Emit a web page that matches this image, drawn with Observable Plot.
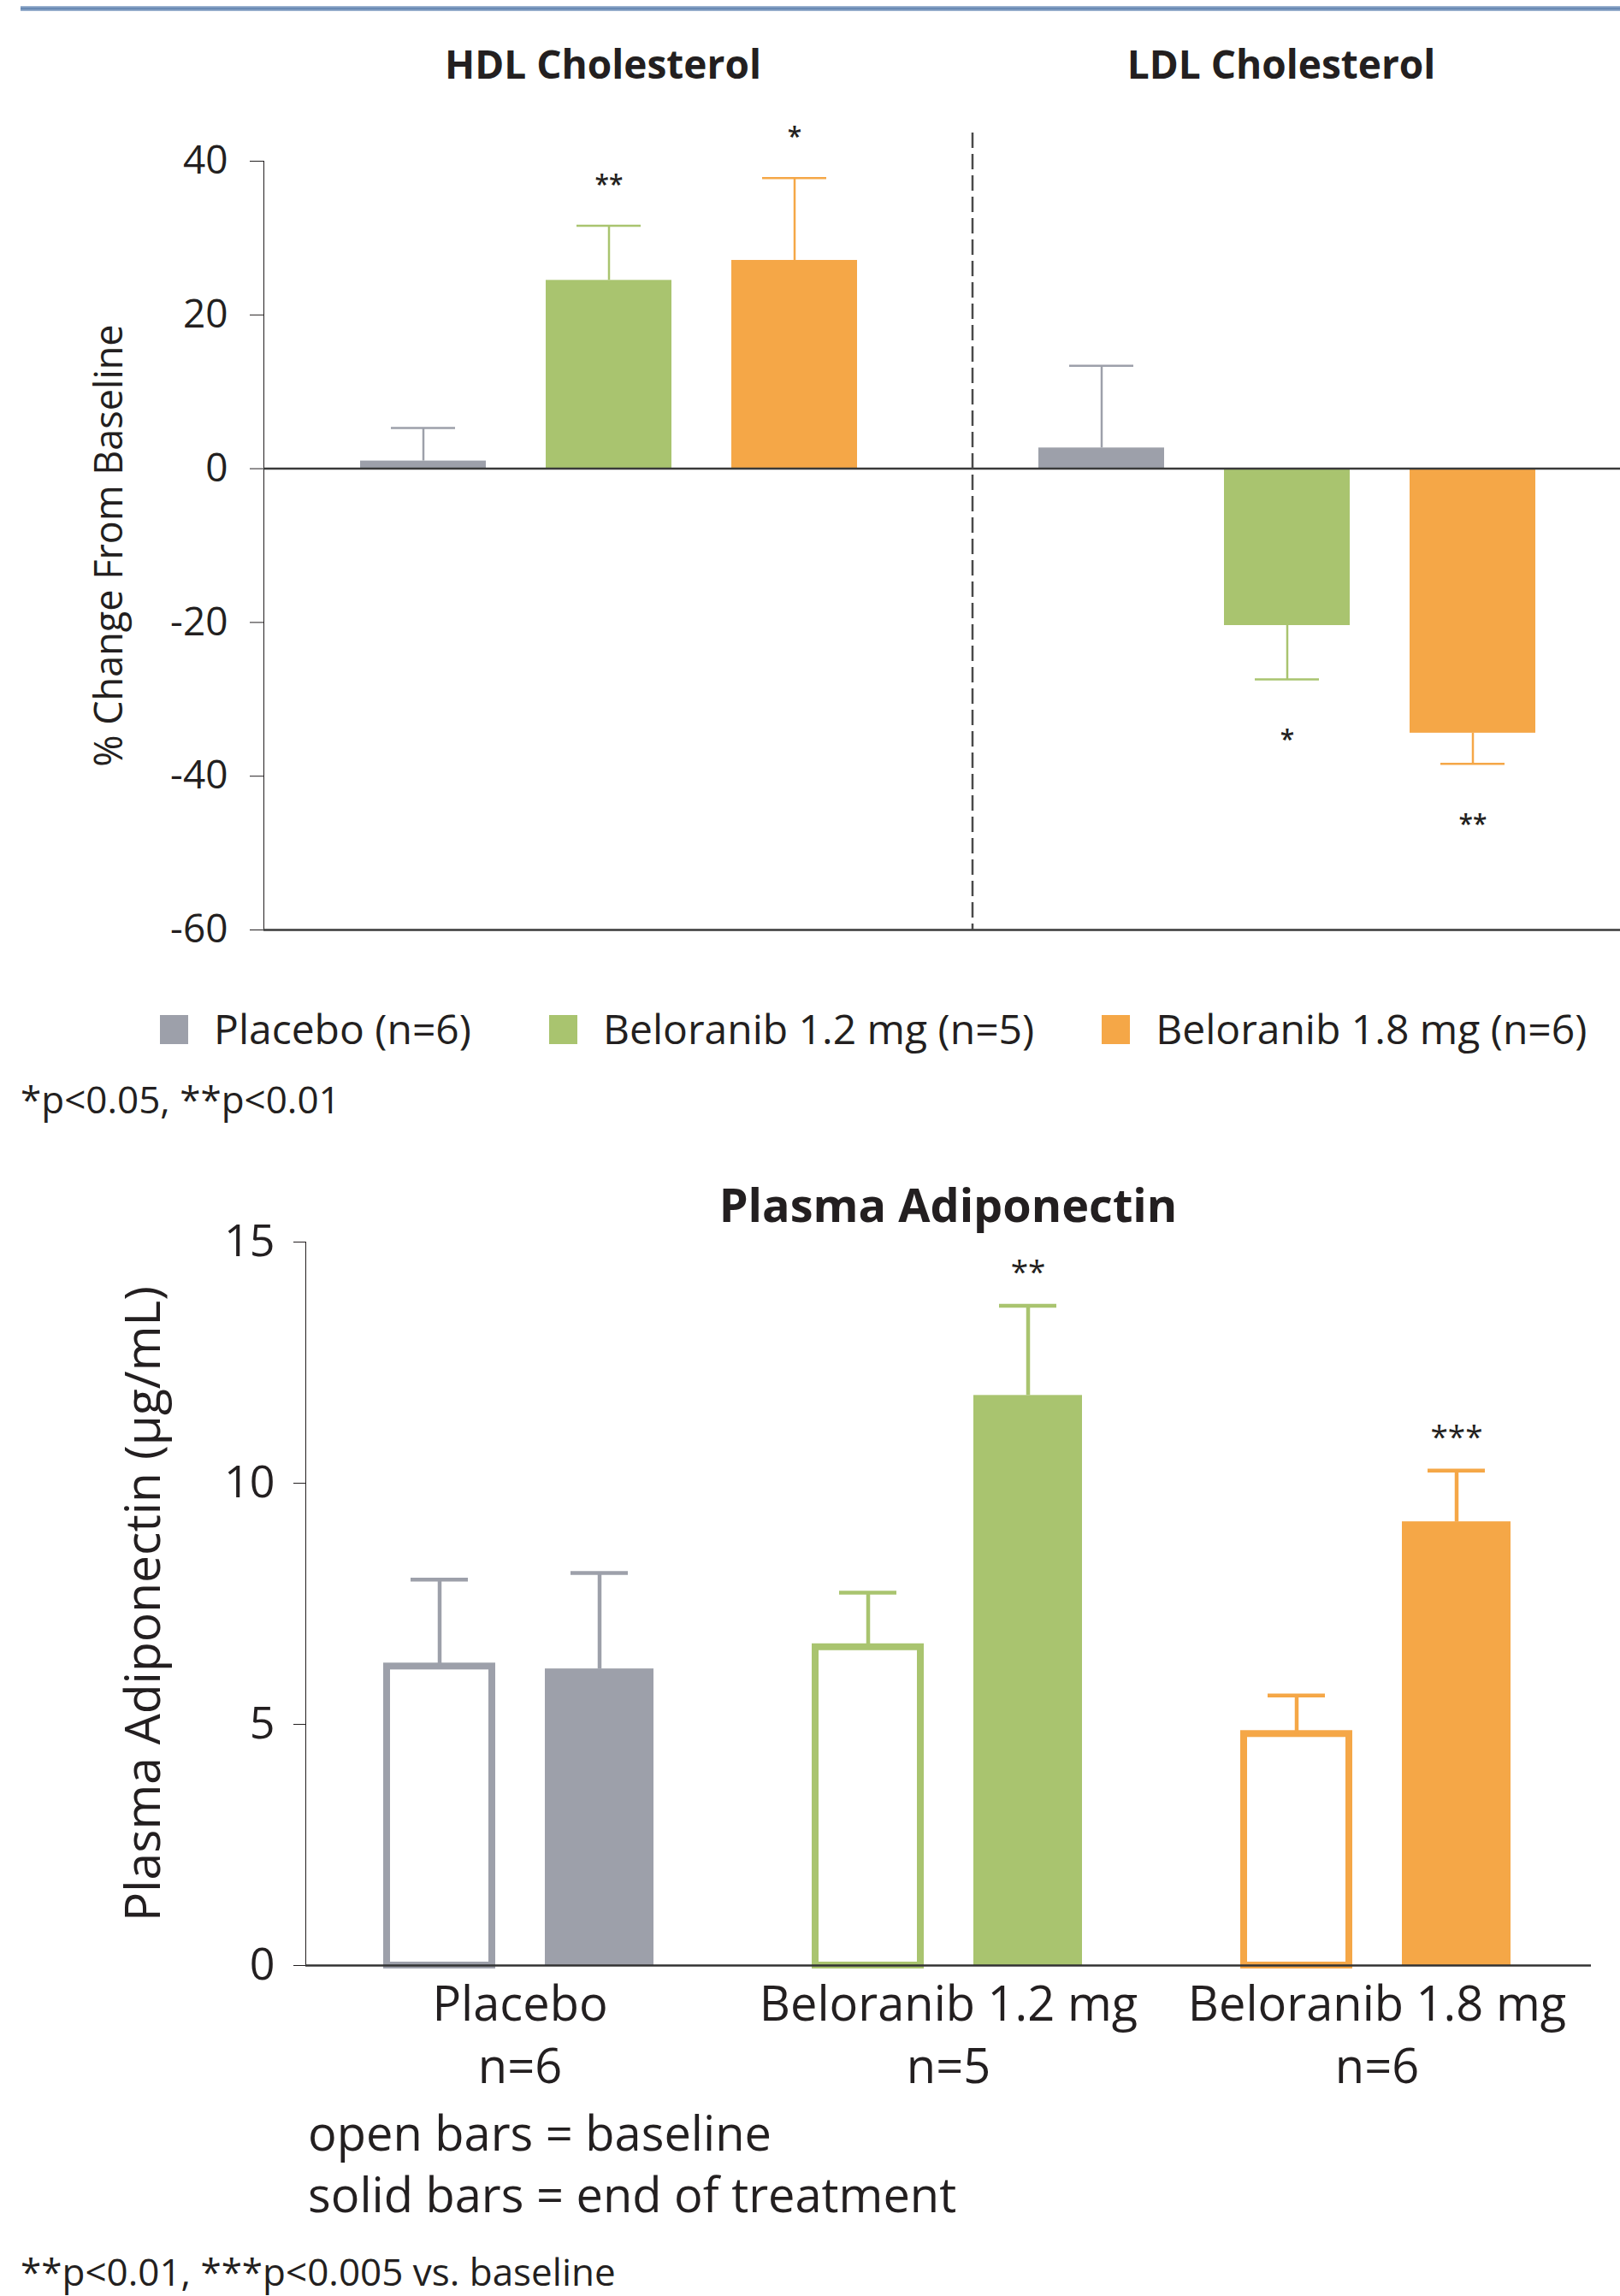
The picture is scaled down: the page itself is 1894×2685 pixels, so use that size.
<!DOCTYPE html>
<html>
<head>
<meta charset="utf-8">
<script src="https://cdn.jsdelivr.net/npm/d3@7"></script>
<script src="https://cdn.jsdelivr.net/npm/@observablehq/plot@0.6"></script>
<style>
  html, body { margin: 0; padding: 0; background: #fff; overflow: hidden; }
  body { width: 1894px; height: 2685px; position: relative; font-family: "Open Sans", sans-serif; color: #231f20; }
  .abs { position: absolute; white-space: nowrap; line-height: 1; }
  .chart { position: absolute; left: 0; }
  .chart svg { display: block; overflow: visible; }
</style>
</head>
<body>
<script>
// ---------- DATA ----------
const lipidPanels = ["HDL Cholesterol", "LDL Cholesterol"];
const armLabels = ["Placebo", "Beloranib 1.2 mg", "Beloranib 1.8 mg"];
const armN = [6, 5, 6];
const armColors = ["#9da0aa", "#a9c46f", "#f5a747"];

const hdlChange = [1.0, 24.5, 27.1];
const hdlErrEnd = [5.3, 31.6, 37.8];
const hdlStars = ["", "**", "*"];
const ldlChange = [2.7, -20.4, -34.4];
const ldlErrEnd = [13.4, -27.4, -38.4];
const ldlStars = ["", "*", "**"];
const lipidTicks = [40, 20, 0, -20, -40, -60];
const lipidDomain = [-60, 40];

const timepoints = ["baseline", "end of treatment"];
const adipoBaseline = [6.2, 6.6, 4.8];
const adipoBaselineErr = [8.0, 7.73, 5.6];
const adipoEnd = [6.15, 11.82, 9.2];
const adipoEndErr = [8.14, 13.68, 10.26];
const adipoStars = ["", "**", "***"];
const adipoTicks = [0, 5, 10, 15];
const adipoDomain = [0, 15];

const lipidFootnote = "*p<0.05, **p<0.01";
const adipoFootnote = "**p<0.01, ***p<0.005 vs. baseline";
const adipoNotes = ["open bars = baseline", "solid bars = end of treatment"];

// ---------- TABLES ----------
const lipid = [];
armLabels.forEach((arm, i) => {
  lipid.push({panel: lipidPanels[0], arm, value: hdlChange[i], err: hdlErrEnd[i], star: hdlStars[i]});
});
armLabels.forEach((arm, i) => {
  lipid.push({panel: lipidPanels[1], arm, value: ldlChange[i], err: ldlErrEnd[i], star: ldlStars[i]});
});

const adipo = [];
armLabels.forEach((arm, i) => {
  adipo.push({arm, time: timepoints[0], value: adipoBaseline[i], err: adipoBaselineErr[i], star: ""});
  adipo.push({arm, time: timepoints[1], value: adipoEnd[i], err: adipoEndErr[i], star: adipoStars[i]});
});

const FONT = "Open Sans";
const INK = "#231f20";

// ---------- helpers for html text ----------
function place(html, {left, center, baseline, size, weight = 400}) {
  const d = document.createElement("div");
  d.className = "abs";
  d.innerHTML = html;
  d.style.fontSize = size + "px";
  d.style.fontWeight = weight;
  d.style.top = (baseline - 0.888 * size) + "px";
  if (center !== undefined) { d.style.left = center + "px"; d.style.transform = "translateX(-50%)"; }
  else d.style.left = left + "px";
  document.body.appendChild(d);
  return d;
}
const esc = s => s.replace(/&/g, "&amp;").replace(/</g, "&lt;");

// top rule
const bar = document.createElement("div");
bar.style.cssText = "position:absolute;left:24px;right:0;top:7px;height:6px;background:linear-gradient(#a9bdd7,#5d80ad 50%,#a9bdd7);";
document.body.appendChild(bar);

// ---------- TOP CHART ----------
const topChart = Plot.plot({
  width: 1894,
  height: 1100,
  marginTop: 188,
  marginBottom: 13,
  marginLeft: 308,
  marginRight: 0,
  style: {fontFamily: FONT, fontSize: "46px", color: INK, background: "transparent", overflow: "visible"},
  fx: {domain: lipidPanels, padding: 0, axis: null},
  x: {domain: armLabels, paddingInner: 0.324, paddingOuter: 0.485, align: 0.53, axis: null},
  y: {domain: lipidDomain, ticks: lipidTicks, tickFormat: d => `${d}`, tickSize: 16, tickPadding: 26, line: true, label: null},
  color: {domain: armLabels, range: armColors},
  marks: [
    Plot.barY(lipid, {fx: "panel", x: "arm", y: "value", fill: "arm"}),
    Plot.ruleX(lipid, {fx: "panel", x: "arm", y1: "value", y2: "err", stroke: "arm", strokeWidth: 2.5}),
    Plot.tickY(lipid, {fx: "panel", x: "arm", y: "err", stroke: "arm", strokeWidth: 2.5, insetLeft: 36, insetRight: 36}),
    Plot.ruleY([0, lipidDomain[0]], {stroke: "#3a3a3a", strokeWidth: 2.5}),
    Plot.ruleX([lipidPanels[1]], {fx: d => d, x: () => armLabels[0], y1: lipidDomain[1], y2: lipidDomain[0],
      dx: -151, insetTop: -33, stroke: "#4a4a4a", strokeWidth: 2.5, strokeDasharray: "18,7"}),
    Plot.text(lipid.filter(d => d.star && d.value > 0), {fx: "panel", x: "arm", y: "err", text: "star",
      dy: -38, lineAnchor: "bottom", fontSize: 30, fontWeight: 600}),
    Plot.text(lipid.filter(d => d.star && d.value < 0), {fx: "panel", x: "arm", y: "err", text: "star",
      dy: 81, lineAnchor: "bottom", fontSize: 30, fontWeight: 600}),
    Plot.text(lipidPanels, {fx: d => d, text: d => d, frameAnchor: "top", dy: -97, lineAnchor: "bottom",
      fontSize: 46, fontWeight: "bold"}),
    Plot.text(["% Change From Baseline"], {fx: () => lipidPanels[0], text: d => d, frameAnchor: "left",
      textAnchor: "middle", rotate: -90, dx: -180, fontSize: 45})
  ]
});
const topWrap = document.createElement("div");
topWrap.className = "chart";
topWrap.style.top = "0px";
topWrap.appendChild(topChart);
document.body.appendChild(topWrap);

// legend (built from the arm arrays)
const LEG = 48;
const legendGaps = [91, 79, 0];
const legend = document.createElement("div");
legend.style.cssText = `position:absolute;left:187px;top:${1222 - 0.888 * LEG}px;display:flex;align-items:baseline;font-size:${LEG}px;line-height:1;white-space:nowrap;`;
armLabels.forEach((arm, i) => {
  const sw = document.createElement("span");
  sw.style.cssText = `display:inline-block;width:33px;height:34px;background:${armColors[i]};margin-right:30px;`;
  const tx = document.createElement("span");
  tx.textContent = `${arm} (n=${armN[i]})`;
  tx.style.marginRight = legendGaps[i] + "px";
  legend.appendChild(sw);
  legend.appendChild(tx);
});
document.body.appendChild(legend);

place(esc(lipidFootnote), {left: 24, baseline: 1302, size: 44});

// ---------- BOTTOM CHART ----------
place("Plasma Adiponectin", {center: 1108.5, baseline: 1429, size: 54, weight: 700});

const bottomChart = Plot.plot({
  width: 1894,
  height: 1130,
  marginTop: 122,
  marginBottom: 162,
  marginLeft: 356,
  marginRight: 33,
  style: {fontFamily: FONT, fontSize: "52px", color: INK, background: "transparent", overflow: "visible"},
  fx: {domain: armLabels, padding: 0, axis: null},
  x: {domain: timepoints, paddingInner: 0.32, paddingOuter: 0.494, axis: null},
  y: {domain: adipoDomain, ticks: adipoTicks, tickSize: 14, tickPadding: 22, line: true, label: null},
  color: {domain: armLabels, range: armColors},
  marks: [
    Plot.barY(adipo.filter(d => d.time === timepoints[0]), {fx: "arm", x: "time", y: "value",
      fill: "white", stroke: "arm", strokeWidth: 8, insetLeft: 2, insetRight: 2}),
    Plot.barY(adipo.filter(d => d.time === timepoints[1]), {fx: "arm", x: "time", y: "value", fill: "arm"}),
    Plot.ruleX(adipo, {fx: "arm", x: "time", y1: "value", y2: "err", stroke: "arm", strokeWidth: 4.5}),
    Plot.tickY(adipo, {fx: "arm", x: "time", y: "err", stroke: "arm", strokeWidth: 4.5, insetLeft: 30, insetRight: 30}),
    Plot.ruleY([0], {stroke: "#333", strokeWidth: 2.5}),
    Plot.text(adipo.filter(d => d.star), {fx: "arm", x: "time", y: "err", text: "star",
      dy: -27, lineAnchor: "bottom", fontSize: 37}),
    Plot.text(armLabels, {fx: d => d, text: (d, i) => `${d}\nn=${armN[i]}`, frameAnchor: "bottom",
      dy: 13, lineAnchor: "top", lineHeight: 1.3, fontSize: 56}),
    Plot.text(["Plasma Adiponectin (µg/mL)"], {fx: () => armLabels[0], text: d => d, frameAnchor: "left",
      textAnchor: "middle", rotate: -90, dx: -189, fontSize: 57})
  ]
});
const botWrap = document.createElement("div");
botWrap.className = "chart";
botWrap.style.top = "1330px";
botWrap.appendChild(bottomChart);
document.body.appendChild(botWrap);

place(esc(adipoNotes[0]), {left: 360, baseline: 2515, size: 56});
place(esc(adipoNotes[1]), {left: 360, baseline: 2587, size: 56});
place(esc(adipoFootnote), {left: 24, baseline: 2673, size: 44});
</script>
</body>
</html>
